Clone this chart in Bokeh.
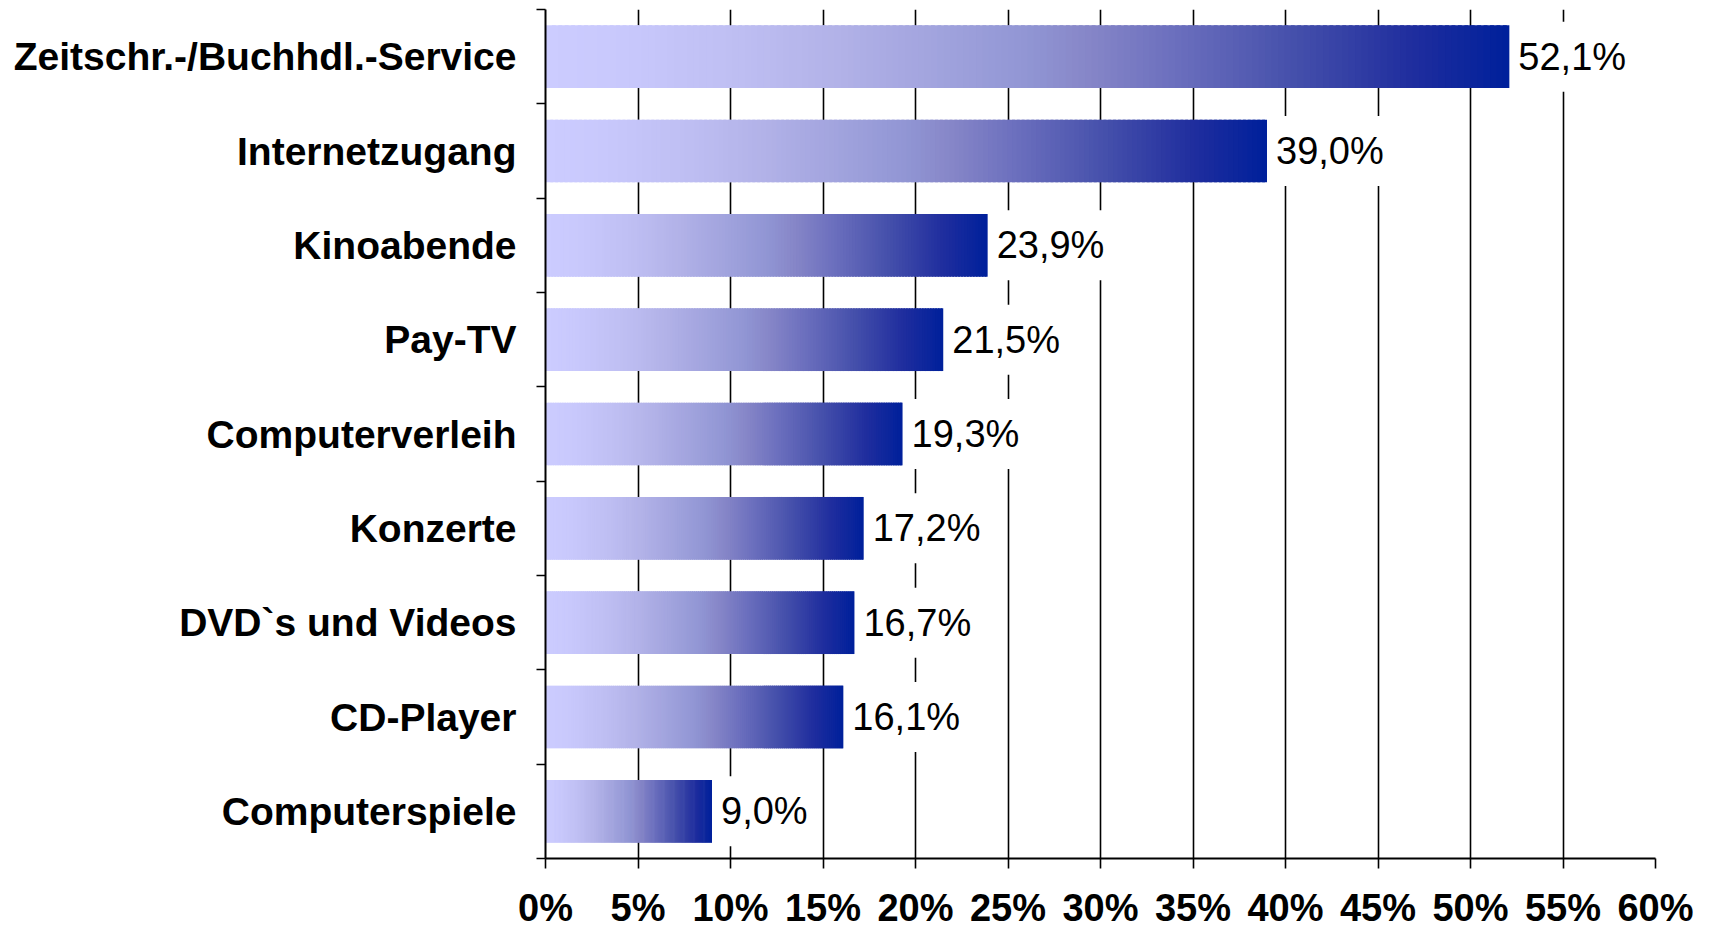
from bokeh.plotting import figure
from bokeh.models import Range1d, FixedTicker, PrintfTickFormatter, Label, ColumnDataSource
from bokeh.embed import file_html
from bokeh.resources import INLINE

# ---- data (top to bottom as in chart) ----
categories = ["Zeitschr.-/Buchhdl.-Service", "Internetzugang", "Kinoabende", "Pay-TV",
              "Computerverleih", "Konzerte", "DVD`s und Videos", "CD-Player", "Computerspiele"]
values = [52.1, 39.0, 23.9, 21.5, 19.3, 17.2, 16.7, 16.1, 9.0]
x_ticks = [0, 5, 10, 15, 20, 25, 30, 35, 40, 45, 50, 55, 60]

FONT = "Liberation Sans"
n = len(categories)

# gradient stops (style)
stops = [(0.0, (204, 204, 255)), (0.08, (200, 200, 252)), (0.2, (190, 190, 242)),
         (0.3, (178, 178, 232)), (0.4, (162, 164, 222)), (0.5, (145, 150, 212)),
         (0.56, (135, 135, 200)), (0.65, (108, 112, 190)), (0.77, (72, 82, 172)),
         (0.9, (32, 46, 158)), (1.0, (0, 32, 155))]


def grad(t):
    for (t0, c0), (t1, c1) in zip(stops[:-1], stops[1:]):
        if t <= t1:
            f = (t - t0) / (t1 - t0) if t1 > t0 else 0
            return "#%02x%02x%02x" % tuple(int(round(a + (b - a) * f)) for a, b in zip(c0, c1))
    return "#%02x%02x%02x" % stops[-1][1]


p = figure(width=1703, height=931, output_backend="svg", toolbar_location=None,
           x_range=Range1d(0, 60), y_range=Range1d(0, n),
           min_border_left=545, min_border_right=48, min_border_top=9, min_border_bottom=69)
p.outline_line_color = None
p.background_fill_color = "white"
p.border_fill_color = "white"

# grid
p.ygrid.grid_line_color = None
p.xgrid.ticker = FixedTicker(ticks=x_ticks[1:])
p.xgrid.grid_line_color = "black"
p.xgrid.grid_line_width = 1.6

# x axis
xa = p.xaxis[0]
xa.ticker = FixedTicker(ticks=x_ticks)
xa.formatter = PrintfTickFormatter(format="%d%%")
xa.axis_line_color = "black"
xa.axis_line_width = 2.2
xa.major_tick_line_color = "black"
xa.major_tick_line_width = 1.6
xa.major_tick_out = 10
xa.major_tick_in = 0
xa.minor_tick_line_color = None
xa.major_label_standoff = 18
xa.major_label_text_font = FONT
xa.major_label_text_font_style = "bold"
xa.major_label_text_font_size = "38px"
xa.major_label_text_color = "black"

# y axis: labels at centers, ticks at category boundaries
centers = [n - 1 - i + 0.5 for i in range(n)]
ya = p.yaxis[0]
ya.ticker = FixedTicker(ticks=sorted(centers), minor_ticks=list(range(n + 1)))
ya.major_label_overrides = {c: lab for c, lab in zip(centers, categories)}
ya.axis_line_color = "black"
ya.axis_line_width = 2
ya.major_tick_out = 0
ya.major_tick_in = 0
ya.major_tick_line_color = None
ya.minor_tick_out = 9
ya.minor_tick_in = 0
ya.minor_tick_line_color = "black"
ya.minor_tick_line_width = 1.6
ya.major_label_standoff = 20
ya.major_label_text_font = FONT
ya.major_label_text_font_style = "bold"
ya.major_label_text_font_size = "39px"
ya.major_label_text_color = "black"

# gradient bars built from slices of each value (slices overlap slightly to hide seams)
N = 150
bh = 0.665
left, right, bottom, top, colors = [], [], [], [], []
for c, v in zip(centers, values):
    step = v / N
    for k in range(N):
        left.append(step * k)
        right.append(min(v, step * (k + 1) + step * 0.6))
        bottom.append(c - bh / 2)
        top.append(c + bh / 2)
        colors.append(grad(k / (N - 1)))
src = ColumnDataSource(dict(left=left, right=right, bottom=bottom, top=top, color=colors))
p.quad(left="left", right="right", bottom="bottom", top="top", source=src,
       fill_color="color", line_color=None)

# value labels
for c, v in zip(centers, values):
    txt = ("%.1f" % v).replace(".", ",") + "%"
    p.add_layout(Label(x=v, y=c, text=txt, x_offset=5, y_offset=0,
                       text_font=FONT, text_font_size="38px", text_color="black",
                       text_baseline="middle", text_align="left",
                       background_fill_color="white", background_fill_alpha=1.0,
                       padding=dict(left=4, right=6, top=14, bottom=14)))

open("out.html", "w").write(file_html(p, INLINE))
